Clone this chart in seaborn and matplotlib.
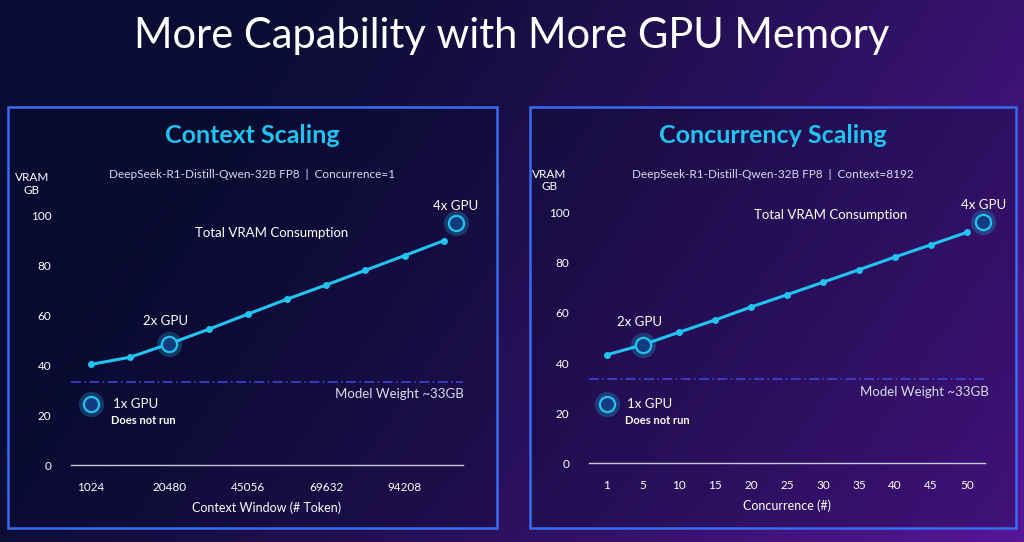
import numpy as np
import pandas as pd
import matplotlib.pyplot as plt
import seaborn as sns
from matplotlib.patches import Rectangle

sns.set_theme(style="dark")
plt.rcParams['font.family'] = ['Lato', 'DejaVu Sans']

# data
ctx_labels = ["1024", "", "20480", "", "45056", "", "69632", "", "94208", ""]
ctx_vram = [40.4, 43.3, 48.7, 54.5, 60.6, 66.6, 72.3, 78.2, 84.1, 90.1]
conc_labels = ["1", "5", "10", "15", "20", "25", "30", "35", "40", "45", "50"]
conc_vram = [43.3, 47.3, 52.3, 57.2, 62.4, 67.3, 72.3, 77.3, 82.4, 87.3, 92.3]
model_weight = 33.5
ctx_gpu = {"1x": (0, 24.3), "2x": (2, 48.7), "4x": (9.3, 97.2)}
conc_gpu = {"1x": (0, 23.6), "2x": (1, 47.3), "4x": (10.45, 96.3)}

W, H = 1024, 542
CYAN = "#21c4f0"
fig = plt.figure(figsize=(W / 100, H / 100), dpi=100)

# background gradient
bg = fig.add_axes([0, 0, 1, 1])
xx = np.linspace(0, 1, 256)
yy = np.linspace(0, 1, 128)
X, Y = np.meshgrid(xx, yy)
c0 = np.array([0.04, 0.05, 0.20])
c1 = np.array([0.36, 0.09, 0.62])
t = np.clip(0.85 * X + 0.3 * Y - 0.2, 0, 1)[..., None] ** 1.3
img = c0 * (1 - t) + c1 * t
bg.imshow(img, extent=[0, 1, 0, 1], aspect='auto', origin='upper')
bg.set_xlim(0, 1); bg.set_ylim(0, 1); bg.axis('off')


def fx(px):
    return px / W


def fy(py):
    return 1 - py / H


fig.text(0.5, fy(36), "More Capability with More GPU Memory", color="white",
         fontsize=30, ha="center", va="center", family=['Lato', 'DejaVu Sans'])


def panel(px0, px1, title, subtitle, ax_left, ax_right, zero_y, top_y,
          xpos0, spacing, labels, values, gpu, xlabel, mw_x, tvc_xy):
    bg.add_patch(Rectangle((fx(px0), fy(528)), fx(px1 - px0), (528 - 107) / H,
                           fill=True, facecolor=(0.02, 0.03, 0.15, 0.25),
                           edgecolor="#3a6cf0", lw=1.8, transform=bg.transAxes))
    cx = (px0 + px1) / 2 / W
    fig.text(cx, fy(135), title, color=CYAN, fontsize=18, fontweight="bold", ha="center", va="center")
    fig.text(cx, fy(175), subtitle, color="#d8dcf0", fontsize=8.5, ha="center", va="center")
    ax = fig.add_axes([fx(ax_left), fy(zero_y), fx(ax_right - ax_left), (zero_y - top_y) / H])
    ax.set_facecolor("none")
    df = pd.DataFrame({"x": np.arange(len(values)), "vram": values})
    sns.lineplot(data=df, x="x", y="vram", ax=ax, color=CYAN, lw=2.2, marker="o",
                 markersize=5, markeredgewidth=0)
    ax.set_xlim(-(xpos0 - ax_left) / spacing, (ax_right - xpos0) / spacing)
    ax.set_ylim(0, 100)
    ax.set_xticks(np.arange(len(labels)))
    ax.set_xticklabels(labels)
    ax.set_yticks([0, 20, 40, 60, 80, 100])
    ax.tick_params(colors="white", labelsize=8.5, length=0, pad=12)
    ax.tick_params(axis="y", pad=14)
    for s in ["top", "right", "left"]:
        ax.spines[s].set_visible(False)
    ax.spines["bottom"].set_color("#c8c8d8")
    ax.spines["bottom"].set_linewidth(1)
    ax.grid(False)
    ax.set_xlabel(xlabel, color="white", fontsize=9, labelpad=6)
    ax.set_ylabel("")
    ax.text(-0.1, 1.13, "VRAM\nGB", transform=ax.transAxes, color="white", fontsize=8.5,
            ha="center", va="center")
    ax.axhline(model_weight, color="#3d44d8", lw=1.2, ls=(0, (6, 2, 1, 2)))
    ax.text(mw_x, 28.5, "Model Weight ~33GB", color="#d8dcf0", fontsize=9.5, ha="right", va="center")
    ax.text(tvc_xy[0], tvc_xy[1], "Total VRAM Consumption", color="white", fontsize=9.5,
            ha="center", va="center")
    for k, (gx, gy) in gpu.items():
        ax.scatter([gx], [gy], s=330, color=CYAN, alpha=0.25, lw=0, clip_on=False, zorder=4)
        ax.scatter([gx], [gy], s=120, facecolor="#123c80", edgecolor=CYAN, lw=1.6,
                   clip_on=False, zorder=5)
    gx, gy = gpu["1x"]
    ax.text(gx + 0.55, gy, "1x GPU", color="white", fontsize=9.5, va="center")
    ax.text(gx + 0.5, gy - 6.5, "Does not run", color="white", fontsize=8, fontweight="bold", va="center")
    gx, gy = gpu["2x"]
    ax.text(gx - 0.1, gy + 9, "2x GPU", color="white", fontsize=9.5, ha="center", va="center")
    gx, gy = gpu["4x"]
    ax.text(gx, gy + 7, "4x GPU", color="white", fontsize=9.5, ha="center", va="center")


panel(8, 497, "Context Scaling", "DeepSeek-R1-Distill-Qwen-32B FP8  |  Concurrence=1",
      71, 463, 465, 216, 91, 39.2, ctx_labels, ctx_vram, ctx_gpu,
      "Context Window (# Token)", 9.5, (4.6, 93))
panel(530, 1016, "Concurrency Scaling", "DeepSeek-R1-Distill-Qwen-32B FP8  |  Context=8192",
      589, 985, 463, 213, 607, 36.0, conc_labels, conc_vram, conc_gpu,
      "Concurrence (#)", 10.6, (6.2, 99))

fig.savefig("out.png", dpi=100)
